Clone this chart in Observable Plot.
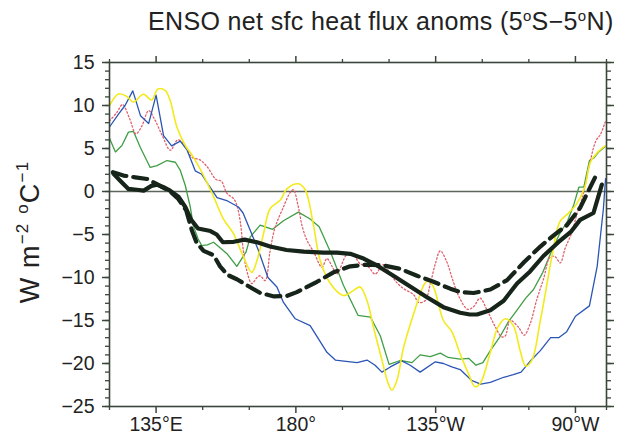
<!DOCTYPE html>
<html>
<head>
<meta charset="utf-8">
<script src="https://cdn.jsdelivr.net/npm/d3@7"></script>
<script src="https://cdn.jsdelivr.net/npm/@observablehq/plot@0.6"></script>
<style>
  body { margin: 0; background: #fff; font-family: "Liberation Sans", Arial, sans-serif; }
  #wrap { position: relative; width: 629px; height: 437px; overflow: hidden; background: #fff; }
  #title { height: 40px; line-height: 42px; font-size: 25px; color: #222; padding-left: 148px; white-space: nowrap; letter-spacing: 0.35px; }
  #title sup { font-size: 15px; vertical-align: 9px; line-height: 0; }
  svg text { fill: #222; }
</style>
</head>
<body>
<div id="wrap">
  <div id="title">ENSO net sfc heat flux anoms (5<sup>o</sup>S−5<sup>o</sup>N)</div>
  <div id="chart"></div>
</div>
<script>
// ---- tick definitions ----
const xMajorTicks = [135, 180, 225, 270];
const xTickLabels = ["135°E", "180°", "135°W", "90°W"];
const xMinorTicks = [120, 150, 165, 195, 210, 240, 255, 280];
const yMajorTicks = [-25, -20, -15, -10, -5, 0, 5, 10, 15];
const yMinorTicks = d3.range(-25, 16, 1);

// ---- series: [longitude (deg E), W m-2 per degC] ----
const blueSeries = [
  [120,7.5],[122.9,9.0],[125,10.0],[127.5,11.7],[130,8.8],[132.6,7.9],[135,11.2],[137.4,6.5],
  [140,5.3],[142.8,5.85],[145,4.8],[147.6,2.4],[149.7,2.0],[152,0.7],[154.6,-0.7],[158,-1.1],
  [161.5,-1.8],[163,-2.5],[165.3,-4.5],[168,-6.9],[171,-10],[173.9,-11.1],[176,-12.9],[179.8,-14.8],
  [184.6,-15.6],[190,-18.7],[192.7,-19.6],[199.7,-19.9],[202.9,-19.6],[205.5,-20.2],[207.7,-21.0],
  [210.4,-20.4],[214.1,-19.7],[216.8,-20.2],[220,-21.0],[224.9,-19.8],[227.5,-20.0],[230.2,-20.4],
  [232.9,-20.7],[236.7,-22.0],[239.5,-22.4],[242.6,-22.2],[246.9,-21.6],[250,-21.3],[252.5,-21.0],
  [256,-19.5],[258.7,-18.5],[262,-17],[264.6,-17],[267.2,-16.3],[270,-14.5],[274.5,-13.3],
  [277,-8.7],[279,-2],[279.7,1.5]
];
const yellowSeries = [
  [120,10.0],[122.9,11.35],[125.6,11.05],[127.7,10.4],[130.9,11.3],[133.6,10.65],[135.5,11.9],
  [137.9,11.75],[139.5,10.6],[141.7,7.5],[144.4,5.35],[147,4.0],[150.3,1.85],[153.5,-0.6],
  [156.7,-3.2],[159.9,-4.9],[163,-7.5],[165.8,-9.4],[167.5,-8.0],[169.6,-4.9],[171.7,-2.0],
  [175,-1.0],[177.1,0.3],[180.8,0.9],[183,0.2],[185.7,-4.0],[187.8,-8.0],[191.1,-10.7],
  [195.3,-12.1],[198.6,-11.5],[200.7,-11.1],[202.9,-12.7],[205,-15.8],[207.7,-19.6],[209.8,-22.4],
  [210.9,-23.1],[212.5,-22.0],[214.7,-18.1],[217.4,-14.8],[219.5,-12.5],[221.5,-10.7],[222.7,-10.4],
  [224.3,-11.1],[227.5,-15.0],[230.2,-16.3],[232.9,-18.9],[235.6,-21.2],[237.7,-22.7],[239.5,-22.2],
  [242.6,-18.7],[245,-15.8],[247.4,-14.8],[250,-15.6],[252.2,-18.5],[254,-20.3],[256,-19.6],
  [258.7,-15.0],[260,-12.5],[262.4,-7.6],[265,-3.5],[267.5,-2.6],[270.3,-1.5],[273,0.5],
  [274.8,3.4],[277,4.5],[279.5,5.3]
];
const greenSeries = [
  [120,6.2],[121.9,4.6],[124,5.35],[126.1,6.9],[127.7,7.0],[129.9,5.15],[133.1,2.8],[135.3,3.0],
  [138.5,3.6],[141.2,3.4],[142.8,2.45],[144.4,0.7],[146,-1.8],[147,-4.0],[148.5,-5.5],[149.7,-6.3],
  [151.5,-6.2],[153.5,-5.9],[156.7,-6.9],[158,-7.3],[161,-8.7],[164,-7.0],[165.3,-5.3],[168.5,-3.9],
  [172.5,-4.4],[176,-3.4],[180.8,-2.4],[184.6,-3.2],[187.5,-4.1],[191.1,-7.0],[195.3,-10.9],
  [200,-14.4],[204,-14.6],[207.2,-16.8],[210,-20.1],[213.6,-19.65],[217.4,-19.9],[220,-19.0],
  [223.3,-19.2],[226.5,-18.8],[229,-19.3],[232.9,-19.5],[235.6,-19.4],[238,-20.2],[240.2,-19.9],
  [242.6,-18.5],[245.5,-17.0],[248.5,-15.1],[251.2,-13.8],[254,-12.4],[256.5,-11.4],[259.5,-9.4],
  [262,-7.2],[264.8,-5.0],[267.5,-3.4],[269.5,-1.5],[271.1,0.5],[272.7,0.5],[274.5,3.6],
  [276,3.9],[277.5,4.6],[279.5,5.2]
];
const redSeries = [
  [120,8.2],[122.4,9.2],[124.2,10.1],[126.5,8.45],[128.5,6.7],[130.4,7.6],[132.6,9.4],[134.5,8.4],
  [137,6.5],[139.6,4.8],[142,6.0],[144.6,5.15],[146.5,4.0],[149,3.7],[151.4,2.9],[154.3,1.4],
  [156,1.2],[157.8,-0.2],[160,-0.85],[161,-1.6],[162.1,-3.5],[163.1,-6.9],[164.2,-9.2],[165.8,-10.7],
  [167.5,-10.0],[168.5,-9.8],[170.1,-10.35],[171.7,-6.9],[173.3,-4.2],[176,-1.8],[178.2,-0.1],
  [179.2,0.2],[180.8,-1.8],[182,-4.0],[183.6,-5.7],[185.7,-7.0],[188.4,-8.8],[190,-7.8],[191.8,-8.8],
  [193.2,-9.6],[196.5,-7.3],[198.5,-7.4],[200.7,-8.4],[203.4,-8.8],[205.5,-9.6],[208.2,-8.5],
  [210.4,-9.6],[212.5,-10.6],[214.7,-11.3],[217.9,-12.0],[219.5,-12.9],[221.6,-12.7],[223.3,-10.7],
  [224.9,-8.4],[226.5,-6.9],[228.6,-8.2],[230.5,-10.3],[232.6,-12.3],[235.3,-13.7],[237.2,-13.4],
  [239.3,-12.4],[241.3,-13.6],[244,-15.6],[246.3,-16.9],[247.4,-16.8],[249,-15.0],[251.7,-15.8],
  [253.5,-16.7],[255.4,-15.4],[257.6,-12.5],[259.7,-10.2],[261.9,-7.6],[263.5,-7.6],[265.1,-8.3],
  [266.7,-6.6],[268.9,-4.7],[270.5,-2.6],[272.3,-0.6],[274.8,3.6],[276.6,5.9],[278,6.6],[279.6,8.1]
];
const solidSeries = [
  [121.3,2.05],[124,1.05],[126.1,0.3],[128.8,0.2],[131,0.1],[133.5,0.65],[135.3,0.8],[137.4,0.5],
  [139.5,0.1],[142.2,-0.6],[144.4,-1.8],[146.3,-3.3],[148.5,-4.3],[152.5,-4.6],[154.5,-5.0],
  [156.5,-5.9],[160,-5.85],[163.5,-5.6],[167.5,-5.9],[171.7,-6.4],[177,-6.8],[182.5,-7.0],
  [188.9,-7.1],[193.2,-7.1],[197.5,-7.25],[201.8,-7.8],[206.1,-8.6],[211.4,-9.8],[216.8,-11.05],
  [222.2,-12.3],[227.5,-13.45],[232.9,-14.1],[236,-14.3],[238.3,-14.3],[242.6,-13.8],[246.9,-12.7],
  [251.2,-10.7],[255.4,-9.3],[259.7,-7.5],[264.5,-5.9],[268.5,-4.7],[271.5,-3.3],[275.8,-2.5],
  [278.5,0.8]
];
const dashedSeries = [
  [121.1,2.25],[124.5,1.85],[128.3,1.65],[132.2,1.45],[134.5,1.0],[137,0.5],[139.5,0.0],[142,-0.8],
  [144.7,-2.2],[146.5,-4.5],[148.1,-6.0],[150.3,-6.9],[153.5,-7.4],[155.6,-8.7],[158,-9.7],
  [161,-10.2],[164.2,-10.9],[168.5,-11.8],[173,-12.2],[177,-12.15],[180.3,-11.7],[183.6,-11.1],
  [186.8,-10.5],[192.1,-9.4],[197.5,-8.7],[202.9,-8.5],[208.2,-8.6],[213.6,-9.0],[219,-9.8],
  [224.3,-10.5],[229.7,-11.3],[233,-11.7],[237.2,-11.8],[242.6,-11.4],[248,-10.3],[253.5,-8.2],
  [258.7,-6.4],[263,-5.1],[267.3,-3.9],[271.5,-1.9],[273.2,-0.65],[276.4,1.7]
];

const axisColor = "#3a463a";
const fontSize = 19.5;
const xLabelOf = new Map(xMajorTicks.map((t, i) => [t, xTickLabels[i]]));
const blank = () => "";
const X = d => d[0], Y = d => d[1];

const plot = Plot.plot({
  width: 629,
  height: 397,
  marginLeft: 109,
  marginRight: 23,
  marginTop: 22,
  marginBottom: 31,
  style: { fontFamily: '"Liberation Sans", Arial, sans-serif', fontSize: fontSize + "px", background: "#fff", overflow: "visible" },
  x: { domain: [120, 280] },
  y: { domain: [-25, 15] },
  marks: [
    // minor ticks
    Plot.axisX({ anchor: "bottom", ticks: xMinorTicks, tickSize: 4, tickFormat: blank, label: null, stroke: axisColor, strokeWidth: 1.3 }),
    Plot.axisX({ anchor: "top", ticks: xMinorTicks, tickSize: 4, tickFormat: blank, label: null, stroke: axisColor, strokeWidth: 1.3 }),
    Plot.axisY({ anchor: "left", ticks: yMinorTicks, tickSize: 4, tickFormat: blank, label: null, stroke: axisColor, strokeWidth: 1.3 }),
    Plot.axisY({ anchor: "right", ticks: yMinorTicks, tickSize: 4, tickFormat: blank, label: null, stroke: axisColor, strokeWidth: 1.3 }),
    // major ticks
    Plot.axisX({ anchor: "bottom", ticks: xMajorTicks, tickSize: 7, tickPadding: 4, tickFormat: d => xLabelOf.get(d), label: null, stroke: axisColor, strokeWidth: 1.5, fontSize }),
    Plot.axisX({ anchor: "top", ticks: xMajorTicks, tickSize: 7, tickFormat: blank, label: null, stroke: axisColor, strokeWidth: 1.5 }),
    Plot.axisY({ anchor: "left", ticks: yMajorTicks, tickSize: 7, tickPadding: 8, label: null, stroke: axisColor, strokeWidth: 1.5, fontSize }),
    Plot.axisY({ anchor: "right", ticks: yMajorTicks, tickSize: 7, tickFormat: blank, label: null, stroke: axisColor, strokeWidth: 1.5 }),
    Plot.ruleY([0], { stroke: "#5c665c", strokeWidth: 1.4 }),
    Plot.line(greenSeries, { x: X, y: Y, stroke: "#3f9e45", strokeWidth: 1.3 }),
    Plot.line(redSeries, { x: X, y: Y, stroke: "#e0606a", strokeWidth: 1.3, strokeDasharray: "1.5,2.2", curve: "catmull-rom" }),
    Plot.line(blueSeries, { x: X, y: Y, stroke: "#2b55b5", strokeWidth: 1.3 }),
    Plot.line(yellowSeries, { x: X, y: Y, stroke: "#f2ea1c", strokeWidth: 1.6, curve: "catmull-rom" }),
    Plot.line(dashedSeries, { x: X, y: Y, stroke: "#16241a", strokeWidth: 4.2, strokeDasharray: "14,7" }),
    Plot.line(solidSeries, { x: X, y: Y, stroke: "#16241a", strokeWidth: 4.2 }),
    Plot.frame({ stroke: axisColor, strokeWidth: 1.6 })
  ]
});
document.getElementById("chart").appendChild(plot);

// y-axis title with superscripts (real text)
const svg = d3.select(plot);
const yl = svg.append("text")
  .attr("transform", "translate(39,192) rotate(-90)")
  .attr("text-anchor", "middle")
  .attr("font-size", 27)
  .attr("letter-spacing", 1.2)
  .attr("fill", "#222");
yl.append("tspan").text("W m");
yl.append("tspan").attr("dy", -11).attr("font-size", 17).text("−2");
yl.append("tspan").attr("dy", 11).text(" ");
yl.append("tspan").attr("dy", -11).attr("font-size", 17).text("o");
yl.append("tspan").attr("dy", 11).text("C");
yl.append("tspan").attr("dy", -11).attr("font-size", 17).text("−1");
</script>
</body>
</html>
